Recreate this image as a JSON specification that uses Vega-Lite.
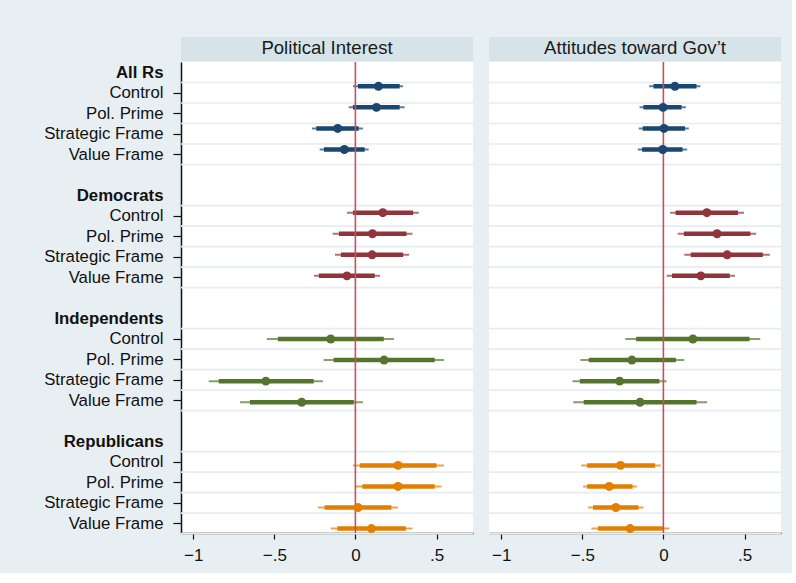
{
  "$schema": "https://vega.github.io/schema/vega-lite/v6.json",
  "background": "#e8eff2",
  "padding": {"left": 41, "top": 37, "right": 10, "bottom": 10},
  "config": {
    "font": "Liberation Sans",
    "view": {"stroke": null},
    "axis": {"labelFont": "Liberation Sans"},
    "text": {"font": "Liberation Sans"}
  },
  "datasets": {
    "coefs": [
      {"p": "Political Interest", "g": "All Rs", "l": "Control", "row": 1, "est": 0.142, "lo95": -0.015, "hi95": 0.294, "lo90": 0.016, "hi90": 0.273},
      {"p": "Political Interest", "g": "All Rs", "l": "Pol. Prime", "row": 2, "est": 0.130, "lo95": -0.041, "hi95": 0.304, "lo90": -0.015, "hi90": 0.273},
      {"p": "Political Interest", "g": "All Rs", "l": "Strategic Frame", "row": 3, "est": -0.109, "lo95": -0.268, "hi95": 0.047, "lo90": -0.241, "hi90": 0.020},
      {"p": "Political Interest", "g": "All Rs", "l": "Value Frame", "row": 4, "est": -0.068, "lo95": -0.220, "hi95": 0.082, "lo90": -0.194, "hi90": 0.057},
      {"p": "Political Interest", "g": "Democrats", "l": "Control", "row": 7, "est": 0.169, "lo95": -0.052, "hi95": 0.391, "lo90": -0.015, "hi90": 0.356},
      {"p": "Political Interest", "g": "Democrats", "l": "Pol. Prime", "row": 8, "est": 0.105, "lo95": -0.140, "hi95": 0.352, "lo90": -0.101, "hi90": 0.315},
      {"p": "Political Interest", "g": "Democrats", "l": "Strategic Frame", "row": 9, "est": 0.103, "lo95": -0.126, "hi95": 0.331, "lo90": -0.089, "hi90": 0.294},
      {"p": "Political Interest", "g": "Democrats", "l": "Value Frame", "row": 10, "est": -0.052, "lo95": -0.255, "hi95": 0.152, "lo90": -0.225, "hi90": 0.119},
      {"p": "Political Interest", "g": "Independents", "l": "Control", "row": 13, "est": -0.152, "lo95": -0.546, "hi95": 0.238, "lo90": -0.478, "hi90": 0.175},
      {"p": "Political Interest", "g": "Independents", "l": "Pol. Prime", "row": 14, "est": 0.177, "lo95": -0.196, "hi95": 0.547, "lo90": -0.134, "hi90": 0.489},
      {"p": "Political Interest", "g": "Independents", "l": "Strategic Frame", "row": 15, "est": -0.552, "lo95": -0.904, "hi95": -0.200, "lo90": -0.842, "hi90": -0.257},
      {"p": "Political Interest", "g": "Independents", "l": "Value Frame", "row": 16, "est": -0.331, "lo95": -0.712, "hi95": 0.047, "lo90": -0.650, "hi90": -0.010},
      {"p": "Political Interest", "g": "Republicans", "l": "Control", "row": 19, "est": 0.263, "lo95": -0.015, "hi95": 0.547, "lo90": 0.027, "hi90": 0.500},
      {"p": "Political Interest", "g": "Republicans", "l": "Pol. Prime", "row": 20, "est": 0.263, "lo95": 0.002, "hi95": 0.531, "lo90": 0.043, "hi90": 0.489},
      {"p": "Political Interest", "g": "Republicans", "l": "Strategic Frame", "row": 21, "est": 0.016, "lo95": -0.231, "hi95": 0.263, "lo90": -0.190, "hi90": 0.222},
      {"p": "Political Interest", "g": "Republicans", "l": "Value Frame", "row": 22, "est": 0.099, "lo95": -0.152, "hi95": 0.352, "lo90": -0.111, "hi90": 0.311},
      {"p": "Attitudes toward Gov’t", "g": "All Rs", "l": "Control", "row": 1, "est": 0.071, "lo95": -0.088, "hi95": 0.229, "lo90": -0.061, "hi90": 0.204},
      {"p": "Attitudes toward Gov’t", "g": "All Rs", "l": "Pol. Prime", "row": 2, "est": -0.002, "lo95": -0.147, "hi95": 0.139, "lo90": -0.123, "hi90": 0.112},
      {"p": "Attitudes toward Gov’t", "g": "All Rs", "l": "Strategic Frame", "row": 3, "est": 0.004, "lo95": -0.152, "hi95": 0.157, "lo90": -0.127, "hi90": 0.133},
      {"p": "Attitudes toward Gov’t", "g": "All Rs", "l": "Value Frame", "row": 4, "est": -0.004, "lo95": -0.158, "hi95": 0.147, "lo90": -0.131, "hi90": 0.118},
      {"p": "Attitudes toward Gov’t", "g": "Democrats", "l": "Control", "row": 7, "est": 0.268, "lo95": 0.041, "hi95": 0.497, "lo90": 0.075, "hi90": 0.460},
      {"p": "Attitudes toward Gov’t", "g": "Democrats", "l": "Pol. Prime", "row": 8, "est": 0.331, "lo95": 0.088, "hi95": 0.572, "lo90": 0.126, "hi90": 0.536},
      {"p": "Attitudes toward Gov’t", "g": "Democrats", "l": "Strategic Frame", "row": 9, "est": 0.393, "lo95": 0.129, "hi95": 0.656, "lo90": 0.169, "hi90": 0.613},
      {"p": "Attitudes toward Gov’t", "g": "Democrats", "l": "Value Frame", "row": 10, "est": 0.231, "lo95": 0.020, "hi95": 0.442, "lo90": 0.053, "hi90": 0.409},
      {"p": "Attitudes toward Gov’t", "g": "Independents", "l": "Control", "row": 13, "est": 0.182, "lo95": -0.235, "hi95": 0.597, "lo90": -0.168, "hi90": 0.531},
      {"p": "Attitudes toward Gov’t", "g": "Independents", "l": "Pol. Prime", "row": 14, "est": -0.194, "lo95": -0.512, "hi95": 0.129, "lo90": -0.460, "hi90": 0.077},
      {"p": "Attitudes toward Gov’t", "g": "Independents", "l": "Strategic Frame", "row": 15, "est": -0.270, "lo95": -0.561, "hi95": 0.020, "lo90": -0.515, "hi90": -0.025},
      {"p": "Attitudes toward Gov’t", "g": "Independents", "l": "Value Frame", "row": 16, "est": -0.144, "lo95": -0.556, "hi95": 0.270, "lo90": -0.491, "hi90": 0.204},
      {"p": "Attitudes toward Gov’t", "g": "Republicans", "l": "Control", "row": 19, "est": -0.264, "lo95": -0.507, "hi95": -0.016, "lo90": -0.470, "hi90": -0.051},
      {"p": "Attitudes toward Gov’t", "g": "Republicans", "l": "Pol. Prime", "row": 20, "est": -0.334, "lo95": -0.495, "hi95": -0.164, "lo90": -0.470, "hi90": -0.190},
      {"p": "Attitudes toward Gov’t", "g": "Republicans", "l": "Strategic Frame", "row": 21, "est": -0.293, "lo95": -0.464, "hi95": -0.123, "lo90": -0.434, "hi90": -0.153},
      {"p": "Attitudes toward Gov’t", "g": "Republicans", "l": "Value Frame", "row": 22, "est": -0.205, "lo95": -0.444, "hi95": 0.037, "lo90": -0.403, "hi90": -0.004}
    ]
  },
  "spacing": 14,
  "hconcat": [
    {
      "spacing": 1,
      "bounds": "flush",
      "vconcat": [
        {
          "data": {"values": [{"panel": "Political Interest"}]},
          "width": 292, "height": 24,
          "view": {"fill": "#d6e4ea", "stroke": null},
          "mark": {"type": "text", "fontSize": 18.6, "color": "#1a1a1a", "dy": -1},
          "encoding": {"text": {"field": "panel"}}
        },
        {
          "width": 292, "height": 471,
          "view": {"fill": "white", "stroke": null},
          "data": {"name": "coefs"},
          "transform": [{"filter": "datum.p == 'Political Interest'"}],
          "resolve": {"scale": {"y": "independent"}},
          "layer": [
            {
              "layer": [
                {
                  "mark": {"type": "rule", "color": "#e5edf0", "strokeWidth": 1.6, "yOffset": -10.25},
                  "encoding": {
                    "y": {"field": "row", "type": "quantitative", "title": null,
                      "scale": {"domain": [-0.503, 22.47], "reverse": true, "nice": false, "zero": false},
                      "axis": {
                        "values": [0,1,2,3,4,6,7,8,9,10,12,13,14,15,16,18,19,20,21,22],
                        "tickCount": 100,
                        "grid": false,
                        "labelExpr": "['All Rs','Control','Pol. Prime','Strategic Frame','Value Frame','','Democrats','Control','Pol. Prime','Strategic Frame','Value Frame','','Independents','Control','Pol. Prime','Strategic Frame','Value Frame','','Republicans','Control','Pol. Prime','Strategic Frame','Value Frame'][datum.value]",
                        "labelFontWeight": {"condition": {"test": "datum.value % 6 == 0", "value": "bold"}, "value": "normal"},
                        "tickOpacity": {"condition": {"test": "datum.value % 6 == 0", "value": 0}, "value": 1},
                        "tickColor": "#111",
                        "domainColor": "#111", "domainWidth": 1.5,
                        "tickSize": 8, "tickWidth": 1.2,
                        "labelPadding": 10, "labelFontSize": 16.8, "labelColor": "#111",
                        "labelOverlap": false, "labelLimit": 200,
                        "minExtent": 140, "maxExtent": 140
                      }
                    }
                  }
                },
                {
                  "transform": [{"filter": "datum.l == 'Value Frame'"}],
                  "mark": {"type": "rule", "color": "#e5edf0", "strokeWidth": 1.6, "yOffset": 10.25},
                  "encoding": {"y": {"field": "row", "type": "quantitative", "title": null}}
                }
              ]
            },
            {
              "layer": [
                {
                  "mark": {"type": "rule", "strokeWidth": 2, "opacity": 0.7},
                  "encoding": {
                    "y": {"field": "row", "type": "quantitative", "axis": null,
                      "scale": {"domain": [-0.154, 22.21], "reverse": true, "nice": false, "zero": false}},
                    "x": {"field": "lo95", "type": "quantitative", "title": null,
                      "scale": {"domain": [-1.075, 0.725], "nice": false, "zero": false},
                      "axis": {"values": [-1, -0.5, 0, 0.5], "tickCount": 20, "format": ".1~f", "labelExpr": "replace(datum.label, '0.', '.')",
                        "grid": false, "domainColor": "#111", "domainWidth": 1.5, "tickColor": "#111", "tickSize": 6, "tickWidth": 1.2,
                        "labelFontSize": 17, "labelColor": "#111", "labelPadding": 8}},
                    "x2": {"field": "hi95", "title": null},
                    "color": {"field": "g", "type": "nominal", "legend": null,
                      "scale": {"domain": ["All Rs", "Democrats", "Independents", "Republicans"], "range": ["#1a476f", "#90353b", "#55752f", "#e37e00"]}}
                  }
                },
                {
                  "mark": {"type": "rule", "strokeWidth": 4.5},
                  "encoding": {
                    "y": {"field": "row", "type": "quantitative", "axis": null},
                    "x": {"field": "lo90", "type": "quantitative", "title": null},
                    "x2": {"field": "hi90", "title": null},
                    "color": {"field": "g", "type": "nominal", "legend": null}
                  }
                },
                {
                  "data": {"values": [{"ref": 0}]},
                  "mark": {"type": "rule", "color": "#c8505e", "strokeWidth": 1.6},
                  "encoding": {"x": {"field": "ref", "type": "quantitative", "title": null}}
                },
                {
                  "mark": {"type": "circle", "size": 80, "opacity": 1},
                  "encoding": {
                    "y": {"field": "row", "type": "quantitative", "axis": null},
                    "x": {"field": "est", "type": "quantitative", "title": null},
                    "color": {"field": "g", "type": "nominal", "legend": null}
                  }
                }
              ]
            }
          ]
        }
      ]
    },
    {
      "spacing": 1,
      "bounds": "flush",
      "vconcat": [
        {
          "data": {"values": [{"panel": "Attitudes toward Gov’t"}]},
          "width": 292, "height": 24,
          "view": {"fill": "#d6e4ea", "stroke": null},
          "mark": {"type": "text", "fontSize": 18.6, "color": "#1a1a1a", "dy": -1},
          "encoding": {"text": {"field": "panel"}}
        },
        {
          "width": 292, "height": 471,
          "view": {"fill": "white", "stroke": null},
          "data": {"name": "coefs"},
          "transform": [{"filter": "datum.p == 'Attitudes toward Gov’t'"}],
          "resolve": {"scale": {"y": "independent"}},
          "layer": [
            {
              "layer": [
                {
                  "mark": {"type": "rule", "color": "#e5edf0", "strokeWidth": 1.6, "yOffset": -10.25},
                  "encoding": {
                    "y": {"field": "row", "type": "quantitative", "axis": null,
                      "scale": {"domain": [-0.503, 22.47], "reverse": true, "nice": false, "zero": false}}
                  }
                },
                {
                  "transform": [{"filter": "datum.l == 'Value Frame'"}],
                  "mark": {"type": "rule", "color": "#e5edf0", "strokeWidth": 1.6, "yOffset": 10.25},
                  "encoding": {"y": {"field": "row", "type": "quantitative", "axis": null}}
                }
              ]
            },
            {
              "layer": [
                {
                  "mark": {"type": "rule", "strokeWidth": 2, "opacity": 0.7},
                  "encoding": {
                    "y": {"field": "row", "type": "quantitative", "axis": null,
                      "scale": {"domain": [-0.154, 22.21], "reverse": true, "nice": false, "zero": false}},
                    "x": {"field": "lo95", "type": "quantitative", "title": null,
                      "scale": {"domain": [-1.075, 0.725], "nice": false, "zero": false},
                      "axis": {"values": [-1, -0.5, 0, 0.5], "tickCount": 20, "format": ".1~f", "labelExpr": "replace(datum.label, '0.', '.')",
                        "grid": false, "domainColor": "#111", "domainWidth": 1.5, "tickColor": "#111", "tickSize": 6, "tickWidth": 1.2,
                        "labelFontSize": 17, "labelColor": "#111", "labelPadding": 8}},
                    "x2": {"field": "hi95", "title": null},
                    "color": {"field": "g", "type": "nominal", "legend": null,
                      "scale": {"domain": ["All Rs", "Democrats", "Independents", "Republicans"], "range": ["#1a476f", "#90353b", "#55752f", "#e37e00"]}}
                  }
                },
                {
                  "mark": {"type": "rule", "strokeWidth": 4.5},
                  "encoding": {
                    "y": {"field": "row", "type": "quantitative", "axis": null},
                    "x": {"field": "lo90", "type": "quantitative", "title": null},
                    "x2": {"field": "hi90", "title": null},
                    "color": {"field": "g", "type": "nominal", "legend": null}
                  }
                },
                {
                  "data": {"values": [{"ref": 0}]},
                  "mark": {"type": "rule", "color": "#c8505e", "strokeWidth": 1.6},
                  "encoding": {"x": {"field": "ref", "type": "quantitative", "title": null}}
                },
                {
                  "mark": {"type": "circle", "size": 80, "opacity": 1},
                  "encoding": {
                    "y": {"field": "row", "type": "quantitative", "axis": null},
                    "x": {"field": "est", "type": "quantitative", "title": null},
                    "color": {"field": "g", "type": "nominal", "legend": null}
                  }
                }
              ]
            }
          ]
        }
      ]
    }
  ]
}
